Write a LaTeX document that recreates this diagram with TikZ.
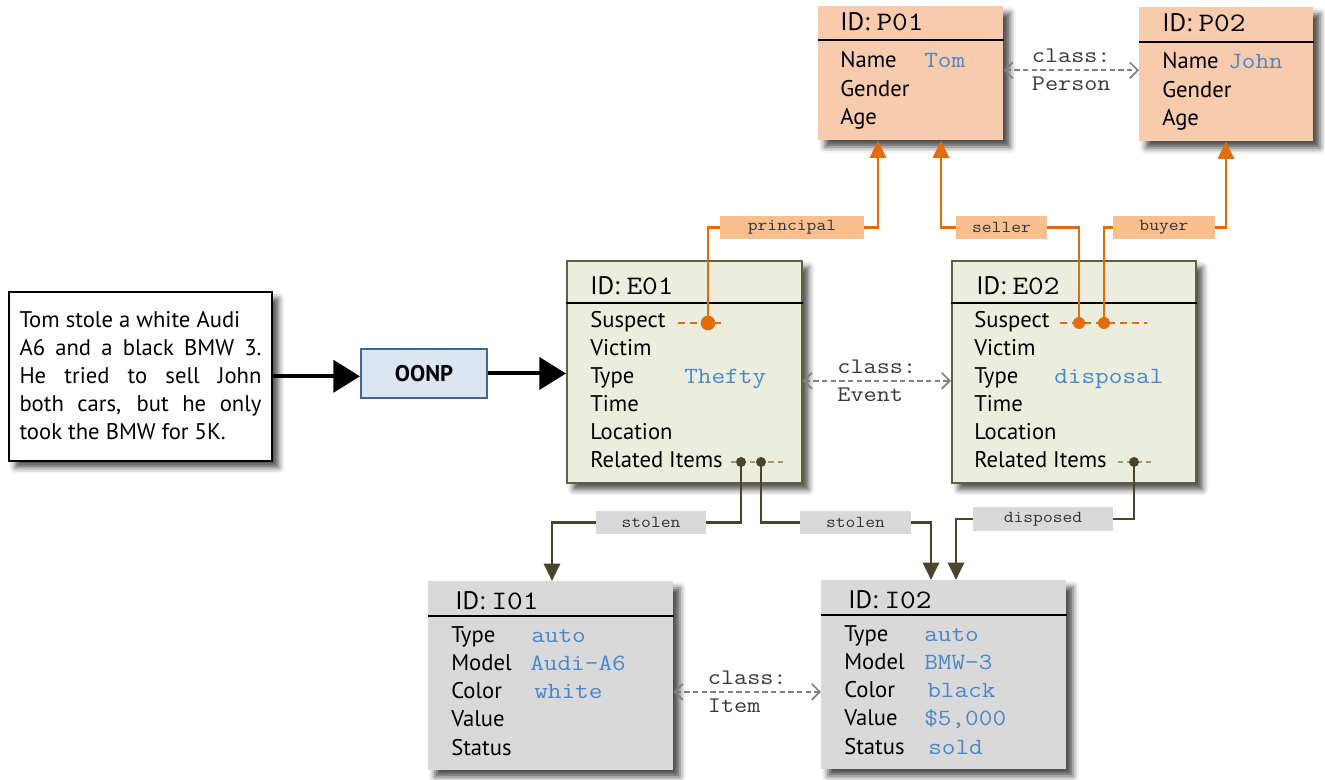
\documentclass[tikz,border=0pt]{standalone}
\usepackage{fontspec}
\usepackage{graphicx}
\setmainfont{PT Sans}
\usetikzlibrary{arrows.meta,shadows.blur,calc}
\definecolor{peach}{HTML}{F8CBAD}
\definecolor{peachlbl}{HTML}{F9BF8F}
\definecolor{orng}{HTML}{E46C0A}
\definecolor{efill}{HTML}{EBEEDC}
\definecolor{eborder}{HTML}{5F6141}
\definecolor{gbox}{HTML}{D9D9D9}
\definecolor{olv}{HTML}{4A452A}
\definecolor{olvlight}{HTML}{A09C62}
\definecolor{valblue}{HTML}{4A86C8}
\definecolor{oonpfill}{HTML}{DCE6F2}
\definecolor{oonpdraw}{HTML}{41679A}
\newcommand\monotxt[1]{\scalebox{1.143}[1]{\ttfamily #1}}
\newcommand\idmono[1]{\monotxt{\fontsize{20}{22}\selectfont #1}}
\begin{document}
\begin{tikzpicture}[x=0.75pt,y=-0.75pt,
  shd/.style={blur shadow={shadow xshift=5pt,shadow yshift=-5pt,shadow blur radius=4.5pt,shadow opacity=70}},
  pbox/.style={rectangle,fill=peach,anchor=north west,inner sep=0,shd},
  ebox/.style={rectangle,fill=efill,draw=eborder,line width=1.2pt,anchor=north west,inner sep=0,shd},
  ibox/.style={rectangle,fill=gbox,anchor=north west,inner sep=0,shd},
  hdr/.style={line width=1.4pt},
  idt/.style={anchor=base west,inner sep=0,font=\fontsize{19}{22}\selectfont},
  row/.style={anchor=base west,inner sep=0,font=\fontsize{17}{20}\selectfont},
  val/.style={anchor=base west,inner sep=0,text=valblue,font=\fontsize{17.4}{20}\selectfont},
  lbl/.style={inner sep=0,font=\fontsize{12.5}{14}\selectfont,text=black!80},
  olbl/.style={lbl,fill=peachlbl},
  glbl/.style={lbl,fill=gbox},
  oline/.style={draw=orng,line width=2.2pt},
  oarr/.style={oline,-{Triangle[length=13pt,width=12pt]}},
  gline/.style={draw=olv,line width=2.2pt},
  garr/.style={gline,-{Triangle[length=13pt,width=12pt]}},
  odot/.style={circle,fill=orng,inner sep=0,minimum size=9pt},
  gdot/.style={circle,fill=olv,inner sep=0,minimum size=7.5pt},
  odash/.style={draw=orng,line width=1.2pt,dash pattern=on 5pt off 4pt},
  gdash/.style={draw=olvlight,line width=1.2pt,dash pattern=on 4pt off 3pt},
  cls/.style={draw=gray,line width=1.3pt,dash pattern=on 4pt off 2.5pt,{Straight Barb[length=6pt,width=12pt]}-{Straight Barb[length=6pt,width=12pt]}},
  clst/.style={align=left,font=\fontsize{16.7}{21}\selectfont,text=black!78,inner sep=0},
  big/.style={line width=3pt,-{Triangle[length=20pt,width=24pt]}}
]
\useasboundingbox (0,0) rectangle (1325,780);

% ---------- boxes ----------
\node[pbox,minimum width=138.75pt,minimum height=100.5pt] (P01) at (818,6) {};
\node[pbox,minimum width=130.5pt,minimum height=100.5pt] (P02) at (1139,7) {};
\node[ebox,minimum width=176.25pt,minimum height=166.5pt] (E01) at (566,260) {};
\node[ebox,minimum width=183pt,minimum height=166.5pt] (E02) at (951,260) {};
\node[ibox,minimum width=183.75pt,minimum height=141.75pt] (I01) at (428,581) {};
\node[ibox,minimum width=183.75pt,minimum height=141.75pt] (I02) at (821,580) {};
\node[rectangle,draw=black,line width=1.2pt,fill=white,anchor=north west,inner sep=0,shd,
      minimum width=197.25pt,minimum height=126.75pt] (story) at (8,291) {};
\node[inner sep=0] (storytext) at (140.5,375.5) {\parbox{181.5pt}{\fontsize{17}{21}\selectfont
  Tom stole a white Audi\\
  \makebox[181.5pt][s]{A6 and a black BMW 3.}\\
  \makebox[181.5pt][s]{He tried to sell John}\\
  \makebox[181.5pt][s]{both cars, but he only}\\
  took the BMW for 5K.}};
\node[rectangle,draw=oonpdraw,fill=oonpfill,line width=1.5pt,anchor=north west,inner sep=0,
      minimum width=94.5pt,minimum height=36.75pt,font=\bfseries\fontsize{17}{20}\selectfont] (OONP) at (360,348) {OONP};

% ---------- header lines ----------
\draw[hdr] ([yshift=-25.5pt]P01.north west) -- ([yshift=-25.5pt]P01.north east);
\draw[hdr] ([yshift=-26.25pt]P02.north west) -- ([yshift=-26.25pt]P02.north east);
\draw[hdr] ([yshift=-32.25pt]E01.north west) -- ([yshift=-32.25pt]E01.north east);
\draw[hdr] ([yshift=-32.25pt]E02.north west) -- ([yshift=-32.25pt]E02.north east);
\draw[hdr] ([yshift=-26.25pt]I01.north west) -- ([yshift=-26.25pt]I01.north east);
\draw[hdr] ([yshift=-26.25pt]I02.north west) -- ([yshift=-26.25pt]I02.north east);

% ---------- P01 ----------
\node[idt] (P01id) at (840,31) {ID: \idmono{P01}};
\node[row] (P01n) at (840,68) {Name};
\node[val] (P01nv) at (924,68) {\monotxt{Tom}};
\node[row] (P01g) at (840,97) {Gender};
\node[row] (P01a) at (840,125) {Age};
% ---------- P02 ----------
\node[idt] (P02id) at (1162,32) {ID: \idmono{P02}};
\node[row] (P02n) at (1162,69) {Name};
\node[val] (P02nv) at (1228,69) {\monotxt{John}};
\node[row] (P02g) at (1162,98) {Gender};
\node[row] (P02a) at (1162,126) {Age};
% ---------- E01 ----------
\node[idt] (E01id) at (590,295) {ID: \idmono{E01}};
\node[row] (E01s) at (590,328) {Suspect};
\node[row] (E01v) at (590,356) {Victim};
\node[row] (E01t) at (590,384) {Type};
\node[val] (E01tv) at (684,384) {\monotxt{Thefty}};
\node[row] (E01ti) at (590,412) {Time};
\node[row] (E01l) at (590,440) {Location};
\node[row] (E01r) at (590,468) {Related Items};
% ---------- E02 ----------
\node[idt] (E02id) at (976,295) {ID: \idmono{E02}};
\node[row] (E02s) at (974,328) {Suspect};
\node[row] (E02v) at (974,356) {Victim};
\node[row] (E02t) at (974,384) {Type};
\node[val] (E02tv) at (1054,384) {\monotxt{disposal}};
\node[row] (E02ti) at (974,412) {Time};
\node[row] (E02l) at (974,440) {Location};
\node[row] (E02r) at (974,468) {Related Items};
% ---------- I01 ----------
\node[idt] (I01id) at (455,609) {ID: \idmono{I01}};
\node[row] (I01t) at (451,642) {Type};
\node[val] (I01tv) at (531,642) {\monotxt{auto}};
\node[row] (I01m) at (451,670) {Model};
\node[val] (I01mv) at (530,670) {\monotxt{Audi-A6}};
\node[row] (I01c) at (451,698) {Color};
\node[val] (I01cv) at (534,698) {\monotxt{white}};
\node[row] (I01v) at (451,726) {Value};
\node[row] (I01s) at (451,755) {Status};
% ---------- I02 ----------
\node[idt] (I02id) at (848,608) {ID: \idmono{I02}};
\node[row] (I02t) at (844,641) {Type};
\node[val] (I02tv) at (924,641) {\monotxt{auto}};
\node[row] (I02m) at (844,669) {Model};
\node[val] (I02mv) at (924,669) {\monotxt{BMW-3}};
\node[row] (I02c) at (844,697) {Color};
\node[val] (I02cv) at (927,697) {\monotxt{black}};
\node[row] (I02v) at (844,725) {Value};
\node[val] (I02vv) at (924,725) {\monotxt{\$5,000}};
\node[row] (I02s) at (844,754) {Status};
\node[val] (I02sv) at (928,754) {\monotxt{sold}};

% ---------- slot dashes ----------
\draw[odash] (678,323) -- (725,323);
\draw[odash] (1060,323) -- (1147,323);
\draw[gdash] (731,462) -- (787,462);
\draw[gdash] (1118,462) -- (1155,462);
\coordinate (dE1s) at (708,323);
\coordinate (dE2a) at (1079,323);
\coordinate (dE2b) at (1104,323);
\coordinate (dE1r1) at (741,462);
\coordinate (dE1r2) at (761,462);
\coordinate (dE2r) at (1134,462);

% ---------- labels ----------
\node[olbl,minimum width=108pt,minimum height=17.25pt] (principal) at (792,227.5) {\monotxt{principal}};
\node[olbl,minimum width=68.25pt,minimum height=17.25pt] (seller) at (1001.5,227.5) {\monotxt{seller}};
\node[olbl,minimum width=76.5pt,minimum height=17.25pt] (buyer) at (1164,227.5) {\monotxt{buyer}};
\node[glbl,minimum width=82.5pt,minimum height=17.25pt] (stolenA) at (651,522.5) {\monotxt{stolen}};
\node[glbl,minimum width=83.25pt,minimum height=17.25pt] (stolenB) at (855.5,522.5) {\monotxt{stolen}};
\node[glbl,minimum width=105pt,minimum height=17.25pt] (disposed) at (1043,519) {\monotxt{disposed}};

% ---------- orange connectors ----------
\draw[oline] (dE1s) |- (principal.west);
\draw[oarr] (principal.east) -| ([xshift=45pt]P01.south west);
\draw[oline] (dE2a) |- (seller.east);
\draw[oarr] (seller.west) -| ([xshift=92.25pt]P01.south west);
\draw[oline] (dE2b) |- (buyer.west);
\draw[oarr] (buyer.east) -| ([xshift=65.25pt]P02.south west);
\node[odot,minimum size=11pt] (dotE1s) at (dE1s) {};
\node[odot] (dotE2a) at (dE2a) {};
\node[odot] (dotE2b) at (dE2b) {};

% ---------- olive connectors ----------
\draw[gline] (dE1r1) |- (stolenA.east);
\draw[garr] (stolenA.west) -| ([xshift=93pt]I01.north west);
\draw[gline] (dE1r2) |- (stolenB.west);
\draw[garr] (stolenB.east) -| ([xshift=82.5pt]I02.north west);
\draw[gline] (dE2r) |- (disposed.east);
\draw[garr] (disposed.west) -| ([xshift=101.25pt]I02.north west);
\node[gdot] (dotE1r1) at (dE1r1) {};
\node[gdot] (dotE1r2) at (dE1r2) {};
\node[gdot] (dotE2r) at (dE2r) {};

% ---------- class arrows ----------
\draw[cls] ([yshift=2.25pt]P01.east) -- ([yshift=2.25pt]P01.east -| P02.west)
  node[clst,midway] (clsP) {\monotxt{class:}\\\monotxt{Person}};
\draw[cls] ([yshift=-6.75pt]E01.east) -- ([yshift=-6.75pt]E01.east -| E02.west)
  node[clst,midway] (clsE) {\monotxt{class:}\\\monotxt{Event}};
\draw[cls] ([yshift=-12pt]I01.east) -- ([yshift=-12pt]I01.east -| I02.west)
  node[clst,midway] (clsI) {\monotxt{class:}\\\monotxt{Item}};

% ---------- main arrows ----------
\draw[big] (story.east) -- (story.east -| OONP.west);
\draw[big] (OONP.east) -- (OONP.east -| E01.west);
\end{tikzpicture}
\end{document}
